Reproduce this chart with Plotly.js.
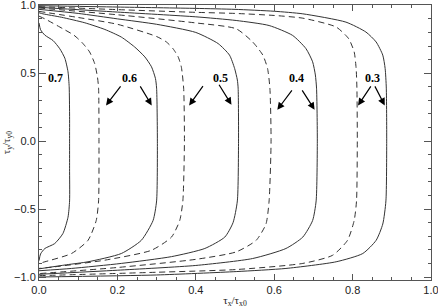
<!DOCTYPE html>
<html>
<head>
<meta charset="utf-8">
<script src="https://cdn.plot.ly/plotly-3.0.1.min.js"></script>
<style>html,body{margin:0;padding:0;background:#fff;}#chart{width:438px;height:308px;}</style>
</head>
<body>
<div id="chart"></div>
<script>
// Curve data (x = tau_x/tau_x0, y = tau_y/tau_y0), listed top to bottom
var c07x = [0, 0.004, 0.015, 0.036, 0.053, 0.066, 0.074, 0.077, 0.078, 0.078, 0.078, 0.078, 0.074, 0.061, 0.040, 0.015, 0.004, 0];
var c07y = [0.87, 0.82, 0.78, 0.74, 0.68, 0.61, 0.51, 0.40, 0.2, 0, -0.2, -0.44, -0.56, -0.68, -0.754, -0.79, -0.83, -0.88];

var c06dx = [0, 0.015, 0.061, 0.089, 0.11, 0.129, 0.142, 0.149, 0.152, 0.153, 0.152, 0.146, 0.125, 0.083, 0.015, 0];
var c06dy = [0.92, 0.90, 0.827, 0.78, 0.725, 0.657, 0.571, 0.474, 0.39, 0, -0.44, -0.584, -0.73, -0.827, -0.888, -0.90];

var c06sx = [0, 0.01, 0.057, 0.117, 0.168, 0.21, 0.244, 0.27, 0.287, 0.297, 0.30, 0.302, 0.30, 0.291, 0.261, 0.21, 0.125, 0.07, 0];
var c06sy = [0.945, 0.937, 0.912, 0.871, 0.822, 0.766, 0.693, 0.62, 0.547, 0.462, 0.39, 0, -0.44, -0.584, -0.73, -0.827, -0.888, -0.91, -0.94];

var c05dx = [0, 0.1, 0.2, 0.3, 0.325, 0.342, 0.355, 0.363, 0.369, 0.371, 0.367, 0.359, 0.338, 0.287, 0.168, 0.04, 0];
var c05dy = [0.955, 0.91, 0.86, 0.77, 0.73, 0.68, 0.62, 0.547, 0.39, 0, -0.44, -0.584, -0.706, -0.803, -0.876, -0.925, -0.937];

var c05sx = [0, 0.1, 0.2, 0.3, 0.4, 0.457, 0.486, 0.499, 0.506, 0.508, 0.509, 0.506, 0.495, 0.474, 0.423, 0.338, 0.21, 0.083, 0];
var c05sy = [0.97, 0.94, 0.9, 0.86, 0.8, 0.718, 0.633, 0.535, 0.45, 0.39, 0, -0.44, -0.6, -0.706, -0.79, -0.85, -0.9, -0.937, -0.954];

var c04dx = [0, 0.2, 0.4, 0.503, 0.545, 0.571, 0.583, 0.589, 0.592, 0.587, 0.579, 0.554, 0.503, 0.4, 0.2, 0];
var c04dy = [0.98, 0.93, 0.87, 0.827, 0.73, 0.633, 0.535, 0.39, 0, -0.44, -0.61, -0.73, -0.815, -0.87, -0.93, -0.975];

var c04sx = [0, 0.2, 0.4, 0.503, 0.587, 0.647, 0.681, 0.698, 0.705, 0.708, 0.71, 0.707, 0.698, 0.673, 0.63, 0.545, 0.4, 0.2, 0];
var c04sy = [0.985, 0.95, 0.915, 0.888, 0.851, 0.778, 0.681, 0.584, 0.487, 0.39, 0, -0.44, -0.584, -0.706, -0.79, -0.864, -0.915, -0.95, -0.98];

var c03dx = [0, 0.2, 0.4, 0.5, 0.6, 0.673, 0.758, 0.79, 0.804, 0.809, 0.811, 0.812, 0.81, 0.804, 0.787, 0.749, 0.673, 0.503, 0.3, 0];
var c03dy = [0.99, 0.968, 0.948, 0.94, 0.925, 0.905, 0.84, 0.754, 0.657, 0.535, 0.39, 0, -0.44, -0.584, -0.73, -0.84, -0.9, -0.945, -0.965, -0.99];

var c03sx = [0, 0.2, 0.4, 0.5, 0.6, 0.673, 0.783, 0.834, 0.86, 0.877, 0.883, 0.886, 0.887, 0.885, 0.877, 0.86, 0.826, 0.758, 0.63, 0.503, 0.3, 0];
var c03sy = [0.997, 0.987, 0.977, 0.97, 0.956, 0.937, 0.876, 0.803, 0.73, 0.633, 0.535, 0.39, 0, -0.44, -0.61, -0.73, -0.827, -0.888, -0.937, -0.96, -0.985, -1.0];

var labels = ['0.7', '0.6', '0.5', '0.4', '0.3'];

var curves = [
  [c07x, c07y, 'solid'],
  [c06dx, c06dy, 'dash'], [c06sx, c06sy, 'solid'],
  [c05dx, c05dy, 'dash'], [c05sx, c05sy, 'solid'],
  [c04dx, c04dy, 'dash'], [c04sx, c04sy, 'solid'],
  [c03dx, c03dy, 'dash'], [c03sx, c03sy, 'solid']
];

var traces = curves.map(function (c) {
  return {
    x: c[0], y: c[1], type: 'scatter', mode: 'lines',
    line: {color: '#333', width: 1, dash: c[2] === 'dash' ? '6px,4px' : 'solid', shape: 'spline', smoothing: 0.6},
    showlegend: false, hoverinfo: 'skip'
  };
});

// label positions (layout, not data)
var labelPos = [[0.041, 0.467], [0.232, 0.467], [0.462, 0.467], [0.658, 0.467], [0.85, 0.467]];
var arrows = [
  // [tailx, taily, headx, heady]
  [0.211, 0.414, 0.171, 0.263], [0.256, 0.414, 0.2875, 0.263],
  [0.421, 0.416, 0.383, 0.263], [0.457, 0.426, 0.491, 0.268],
  [0.648, 0.385, 0.608, 0.231], [0.669, 0.385, 0.703, 0.231],
  [0.849, 0.414, 0.814, 0.263], [0.855, 0.414, 0.882, 0.263]
];

var annotations = labels.map(function (t, i) {
  return {x: labelPos[i][0], y: labelPos[i][1], xref: 'x', yref: 'y', text: '<b>' + t + '</b>',
    showarrow: false, font: {family: 'Liberation Serif, Times New Roman, serif', size: 12, color: '#000'}};
});
arrows.forEach(function (a) {
  annotations.push({x: a[2], y: a[3], ax: a[0], ay: a[1], xref: 'x', yref: 'y', axref: 'x', ayref: 'y',
    text: '', showarrow: true, arrowhead: 2, arrowsize: 1.2, arrowwidth: 1.2, arrowcolor: '#000', standoff: 0});
});

var axisCommon = {
  showgrid: false, zeroline: false, showline: true, linecolor: '#555', linewidth: 1,
  mirror: 'allticks', ticks: 'inside', tickcolor: '#555', tickfont: {family: 'Liberation Sans, Arial, sans-serif', size: 11, color: '#222'},
  tickformat: '.1f', ticklabeloverflow: 'allow'
};

var layout = {
  width: 438, height: 308,
  margin: {l: 39, r: 7, t: 5, b: 28},
  paper_bgcolor: '#fff', plot_bgcolor: '#fff',
  xaxis: Object.assign({}, axisCommon, {
    range: [0, 1], dtick: 0.2, tick0: 0, ticklen: 6,
    minor: {dtick: 0.05, ticklen: 3, ticks: 'inside', tickcolor: '#555'},
    title: {text: 'τ<sub>x</sub>/τ<sub>x0</sub>', font: {family: 'Liberation Serif, Times New Roman, serif', size: 11, color: '#222'}, standoff: 4}
  }),
  yaxis: Object.assign({}, axisCommon, {
    range: [-1.022, 1.002], dtick: 0.5, tick0: 0, ticklen: 7,
    minor: {dtick: 0.1, ticklen: 3, ticks: 'inside', tickcolor: '#555'},
    title: {text: 'τ<sub>y</sub>/τ<sub>y0</sub>', font: {family: 'Liberation Serif, Times New Roman, serif', size: 11, color: '#222'}, standoff: 2}
  }),
  annotations: annotations
};

Plotly.newPlot('chart', traces, layout, {staticPlot: true, displayModeBar: false});
</script>
</body>
</html>
